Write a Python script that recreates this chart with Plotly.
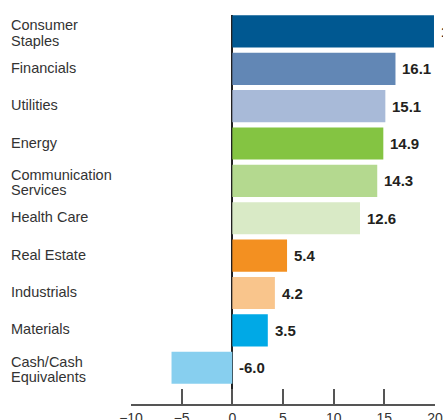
import plotly.graph_objects as go

categories = ["Consumer<br>Staples", "Financials", "Utilities", "Energy",
              "Communication<br>Services", "Health Care", "Real Estate",
              "Industrials", "Materials", "Cash/Cash<br>Equivalents"]
values = [19.9, 16.1, 15.1, 14.9, 14.3, 12.6, 5.4, 4.2, 3.5, -6.0]
colors = ["#005891", "#6287b5", "#a8bad8", "#84c442", "#b4d98f", "#d9eac6",
          "#f39021", "#f9c58c", "#00a9e6", "#87cfef"]
x_ticks = [-10, -5, 0, 5, 10, 15, 20]

fig = go.Figure(go.Bar(
    y=categories, x=values, orientation="h",
    marker=dict(color=colors, line=dict(width=0)),
    hoverinfo="skip",
))

annotations = []
for cat, v in zip(categories, values):
    lines = cat.split("<br>")
    n = len(lines)
    for i, ln in enumerate(lines):
        shift = ((n - 1) / 2 - i) * 15.5 + 1 - (n - 1) * 2.5
        annotations.append(dict(
            x=-0.40, xref="paper", y=cat, yref="y", text=ln,
            xanchor="left", yanchor="middle", showarrow=False, yshift=shift,
            font=dict(family="Liberation Sans, Arial", size=14.5, color="#333333"),
        ))
    annotations.append(dict(
        x=max(v, 0), xref="x", y=cat, yref="y", text=f"{v:.1f}",
        xanchor="left", yanchor="middle", showarrow=False, xshift=5,
        font=dict(family="Liberation Sans, Arial", size=15, color="#231f20",
                  weight="bold"),
    ))

fig.update_layout(
    width=443, height=420,
    margin=dict(l=131, r=8, t=15, b=16, autoexpand=False),
    plot_bgcolor="white", paper_bgcolor="white",
    showlegend=False, bargap=0.14,
    annotations=annotations,
    xaxis=dict(range=[-10, 20], tickvals=x_ticks, ticks="inside", ticklen=15,
               tickwidth=1.5, tickcolor="#555555", showline=True, linewidth=1.5,
               linecolor="#555555", showgrid=False, zeroline=True,
               zerolinecolor="#222222", zerolinewidth=1.5,
               tickfont=dict(family="Liberation Sans, Arial", size=14, color="#333333"),
               automargin=False, fixedrange=True),
    yaxis=dict(type="category", categoryorder="array", categoryarray=categories,
               range=[9.97, -0.44], showticklabels=False, showgrid=False,
               showline=False, zeroline=False, ticks="", automargin=False,
               fixedrange=True),
)

fig.write_html(
    "out.html",
    config={"displayModeBar": False},
    post_script="document.body.style.margin='0';document.body.style.overflow='hidden';",
)
